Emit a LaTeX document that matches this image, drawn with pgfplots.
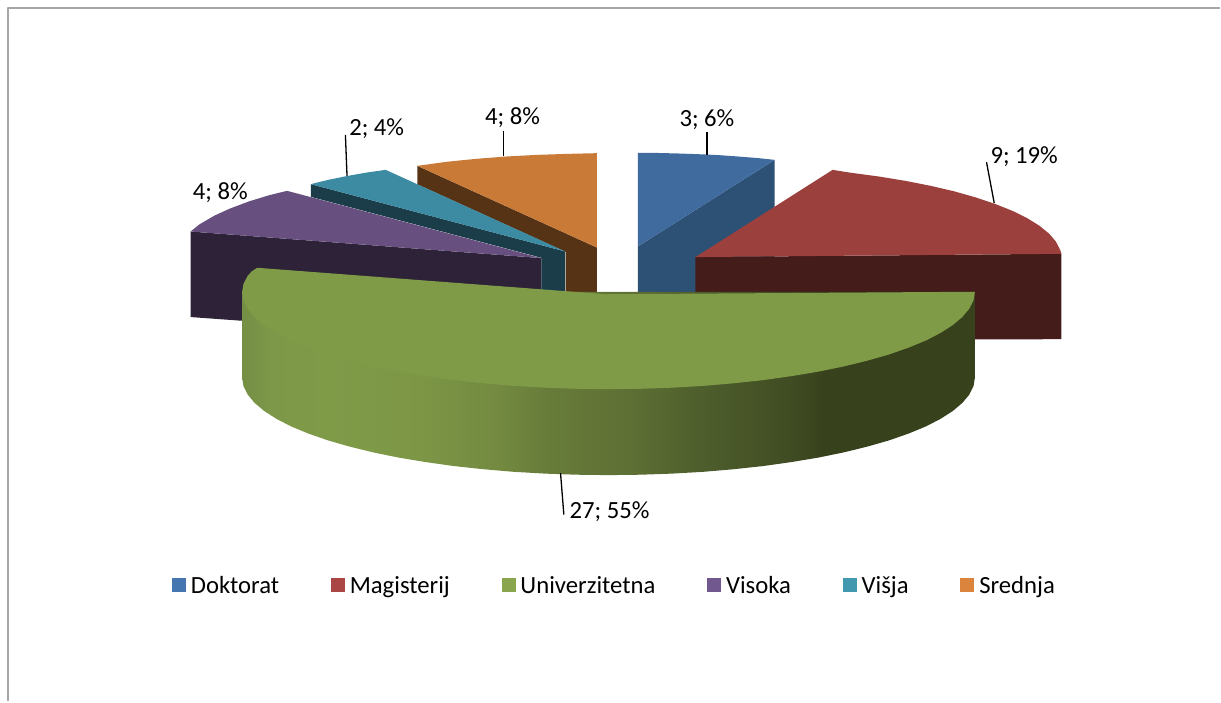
\documentclass[border=0pt]{standalone}
\usepackage{fontspec}
\setmainfont{Carlito}
\usepackage{pgfplots}
\pgfplotsset{compat=1.18}
\definecolor{blueT}{HTML}{406B9F}\definecolor{blueD}{HTML}{2D5075}
\definecolor{redT}{HTML}{9C403D}\definecolor{redD}{HTML}{441C1A}
\definecolor{greenT}{HTML}{7F9B48}\definecolor{greenD}{HTML}{37421C}
\definecolor{purT}{HTML}{67507F}\definecolor{purD}{HTML}{2D2238}
\definecolor{tealT}{HTML}{3D8AA3}\definecolor{tealD}{HTML}{1A3D49}
\definecolor{oraT}{HTML}{C97A37}\definecolor{oraD}{HTML}{573316}
\definecolor{frameC}{HTML}{A6A6A6}
\pgfdeclarehorizontalshading{greenside}{100bp}{
 color(0bp)=({rgb,255:red,116;green,143;blue,69});
 color(25bp)=({rgb,255:red,116;green,143;blue,69});
 color(27bp)=({rgb,255:red,125;green,152;blue,72});
 color(31bp)=({rgb,255:red,127;green,155;blue,72});
 color(37.1bp)=({rgb,255:red,124;green,150;blue,70});
 color(42.4bp)=({rgb,255:red,115;green,138;blue,64});
 color(45.8bp)=({rgb,255:red,104;green,124;blue,58});
 color(51.4bp)=({rgb,255:red,94;green,112;blue,52});
 color(56.2bp)=({rgb,255:red,78;green,94;blue,44});
 color(59.6bp)=({rgb,255:red,71;green,85;blue,39});
 color(63.7bp)=({rgb,255:red,60;green,71;blue,32});
 color(64.7bp)=({rgb,255:red,55;green,66;blue,28});
 color(100bp)=({rgb,255:red,55;green,66;blue,28})
}
\begin{document}
\begin{tikzpicture}
\begin{axis}[
  scale only axis, width=1221pt, height=702pt,
  xmin=0, xmax=1221, ymin=0, ymax=702, y dir=reverse,
  hide axis, clip=false,
  legend columns=6,
  legend cell align=left,
  legend style={draw=none, fill=none, at={(0.1409,0.1655)}, anchor=west,
    inner sep=0pt, outer sep=0pt, font=\fontsize{24.7}{26}\selectfont,
    nodes={inner sep=0pt, outer sep=0pt},
    /tikz/every odd column/.append style={column sep=5pt},
    /tikz/every even column/.append style={column sep=51.7pt}},
  every axis plot/.append style={line join=round},
]
% extent
\addplot[draw=none, forget plot] coordinates {(0,0)(1221,702)};
% frame
\addplot[draw=frameC, line width=2pt, forget plot] coordinates {(8.5,702)(8.5,8.5)(1221,8.5)};

% Srednja (orange)
\addplot[fill=oraD, draw=none, forget plot] coordinates {(417.7,166)(597.3,247.7)(597.3,296)(566,296)(566,252)(417.7,184.5)} --cycle;
\addplot[fill=oraT, draw=none, forget plot] coordinates {(597.3,153.3)(567.3,154)(537.3,155)(507.3,156.6)(477.3,158.9)(447.3,161.9)(417.7,166)(597.3,247.7)} --cycle;
% Visja (teal)
\addplot[fill=tealD, draw=none, forget plot] coordinates {(311,184.3)(565.7,251.7)(565.7,296)(541.7,296)(541.7,258)(311,197)} --cycle;
\addplot[fill=tealT, draw=none, forget plot] coordinates {(386,170)(365,173)(346.7,176.3)(328,180.1)(311,184.3)(565.7,251.7)} --cycle;
% Visoka (purple)
\addplot[fill=purD, draw=none, forget plot] coordinates {(190.7,231.7)(541.7,258.3)(541.7,300)(241.7,321)(190.7,317.3)} --cycle;
\addplot[fill=purT, draw=none, forget plot] coordinates {(287.3,191)(270,195.2)(250,201.3)(230,208.8)(215,215.6)(200,224.3)(190.7,231.7)(541.7,258.3)} --cycle;
% Doktorat (blue)
\addplot[fill=blueD, draw=none, forget plot] coordinates {(638.3,246.7)(775.3,160)(775.3,262)(696,296)(638.3,296)} --cycle;
\addplot[fill=blueT, draw=none, forget plot] coordinates {(638.3,153)(658.3,153.1)(678.3,153.6)(698.3,154.3)(718.3,155.2)(738.3,156.6)(758.3,158.2)(775.3,160)(638.3,246.7)} --cycle;
% Magisterij (red)
\addplot[fill=redD, draw=none, forget plot] coordinates {(696,257.3)(1062.3,254)(1062.3,339.5)(696,340)} --cycle;
\addplot[fill=redT, draw=none, forget plot] coordinates {(833.3,170)(850.8,172.8)(879.2,176.6)(906.1,181)(931.5,186)(955,191.5)(976.6,197.6)(996,204.1)(1013.2,211)(1028,218.3)(1040.2,225.9)(1049.8,233.7)(1056.7,241.7)(1060.9,249.8)(1062.3,254)(696,257.3)} --cycle;
% Univerzitetna (green)
\addplot[shading=greenside, draw=none, forget plot] coordinates {
 (242.3,292)(242.3,378)(243.7,386.5)(247.9,394.9)(254.8,403.2)(264.4,411.3)(276.7,419.2)(291.4,426.8)(308.6,433.9)(328.1,440.7)(349.7,446.9)(373.3,452.7)(398.7,457.9)(425.6,462.4)(454,466.4)(483.6,469.6)(514.1,472.2)(545.3,474)(577,475.1)(609,475.5)(641,475.1)(672.7,474)(703.9,472.2)(734.4,469.6)(764,466.4)(792.4,462.4)(819.3,457.9)(844.7,452.7)(868.3,446.9)(889.9,440.7)(909.4,433.9)(926.6,426.8)(941.3,419.2)(953.6,411.3)(963.2,403.2)(970.1,394.9)(974.3,386.5)(975.7,378)(975.7,292)} --cycle;
\addplot[fill=greenT, draw=none, forget plot] coordinates {
 (257.5,268)(252,271.5)(247.9,276)(243.7,284)(242.3,292)(243.7,300.5)(247.9,308.9)(254.8,317.2)(264.4,325.3)(276.7,333.2)(291.4,340.8)(308.6,347.9)(328.1,354.7)(349.7,360.9)(373.3,366.7)(398.7,371.9)(425.6,376.4)(454,380.4)(483.6,383.6)(514.1,386.2)(545.3,388)(577,389.1)(609,389.5)(641,389.1)(672.7,388)(703.9,386.2)(734.4,383.6)(764,380.4)(792.4,376.4)(819.3,371.9)(844.7,366.7)(868.3,360.9)(889.9,354.7)(909.4,347.9)(926.6,340.8)(941.3,333.2)(953.6,325.3)(963.2,317.2)(970.1,308.9)(974.3,300.5)(975.7,292)(607,294.5)} --cycle;

% leader lines
\addplot[black, line width=1.3pt, forget plot] coordinates {(707.7,132.5)(707.7,155)};
\addplot[black, line width=1.3pt, forget plot] coordinates {(987.3,162.3)(995,203)};
\addplot[black, line width=1.3pt, forget plot] coordinates {(345.7,135)(347.3,176)};
\addplot[black, line width=1.3pt, forget plot] coordinates {(504,131)(504,156)};
\addplot[black, line width=1.3pt, forget plot] coordinates {(561,473.5)(564.3,515)};

% data labels
\begin{scope}[every node/.style={font=\fontsize{24.7}{26}\selectfont, inner sep=0pt, text=black, anchor=base}]
\node at (axis cs:707.5,127) {3; 6\%};
\node at (axis cs:1025,163.3) {9; 19\%};
\node at (axis cs:610,518.5) {27; 55\%};
\node at (axis cs:220.5,199.3) {4; 8\%};
\node at (axis cs:377,136) {2; 4\%};
\node at (axis cs:513,125) {4; 8\%};
\end{scope}

% legend
\pgfplotsset{legend image code/.code={\fill[#1] (0pt,-7pt) rectangle (14pt,7pt);}}
\addlegendimage{fill={rgb,255:red,70;green,118;blue,176}, draw=none}
\addlegendentry{Doktorat}
\addlegendimage{fill={rgb,255:red,170;green,70;blue,67}, draw=none}
\addlegendentry{Magisterij}
\addlegendimage{fill={rgb,255:red,137;green,165;blue,78}, draw=none}
\addlegendentry{Univerzitetna}
\addlegendimage{fill={rgb,255:red,113;green,88;blue,143}, draw=none}
\addlegendentry{Visoka}
\addlegendimage{fill={rgb,255:red,65;green,152;blue,175}, draw=none}
\addlegendentry{Višja}
\addlegendimage{fill={rgb,255:red,219;green,132;blue,61}, draw=none}
\addlegendentry{Srednja}
\end{axis}
\end{tikzpicture}
\end{document}
